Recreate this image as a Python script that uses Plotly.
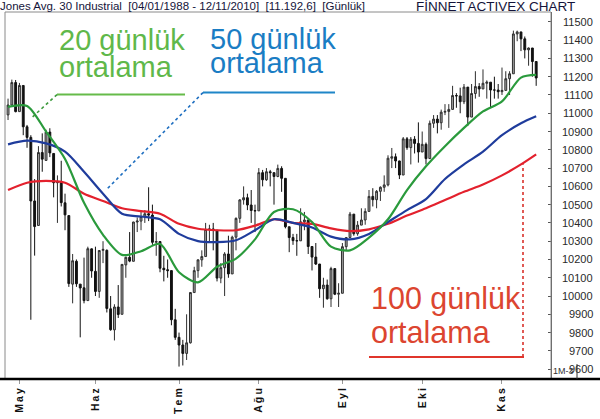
import pandas as pd
import plotly.graph_objects as go

# ---------------------------------------------------------------------------
# Daily session list (NYSE), 28 Apr 2010 - 12 Nov 2010
# ---------------------------------------------------------------------------
holidays = ["2010-05-31", "2010-07-05", "2010-09-06"]
dates = [d.strftime("%Y-%m-%d") for d in pd.bdate_range("2010-04-28", "2010-11-12")
         if d.strftime("%Y-%m-%d") not in holidays]

# Daily candles (Apr 28 .. Nov 12)
opens = [
    10991, 11045, 11168,
    11009, 11152, 10926, 10868, 10520, 10386, 10785, 10742, 10897, 10780, 10620, 10625, 10510, 10440, 10065, 10190, 10065, 10045, 9975, 10258,
    10135, 10025, 10250, 10250, 9930, 9815, 9940, 9900, 10170, 10212, 10190, 10405, 10410, 10435, 10450, 10443, 10294, 10298, 10152, 10144, 10139, 9870,
    9774, 9732, 9686, 9744, 10019, 10139, 10198, 10216, 10364, 10367, 10360, 10098, 10155, 10230, 10121, 10322, 10425, 10526, 10538, 10498, 10468,
    10466, 10675, 10636, 10680, 10675, 10654, 10698, 10644, 10379, 10320, 10303, 10302, 10406, 10416, 10271, 10213, 10175, 10040, 10060, 9985, 10150, 10010,
    10015, 10270, 10320, 10448, 10341, 10388, 10416, 10463, 10545, 10527, 10573, 10595, 10608, 10754, 10762, 10739, 10662, 10860, 10812, 10858, 10835,
    10788, 10830, 10752, 10945, 10968, 10948, 11006, 11010, 11021, 11097, 11095, 11063, 11143, 10979, 11108, 11146, 11133, 11164, 11170, 11127, 11127,
    11118, 11125, 11189, 11216, 11434, 11445, 11407, 11347, 11357, 11283,
]
highs = [
    11080, 11184, 11182,
    11166, 11152, 10936, 10880, 10640, 10820, 10890, 10910, 10918, 10780, 10660, 10740, 10560, 10440, 10230, 10200, 10065, 10210, 10270, 10260,
    10270, 10250, 10300, 10255, 10000, 9955, 10060, 10175, 10215, 10350, 10406, 10430, 10460, 10470, 10595, 10500, 10350, 10298, 10220, 10200, 10139, 9930,
    9800, 9760, 9900, 10020, 10160, 10200, 10250, 10400, 10390, 10400, 10360, 10180, 10240, 10330, 10330, 10430, 10530, 10600, 10560, 10580, 10500,
    10700, 10690, 10700, 10690, 10675, 10719, 10710, 10644, 10379, 10340, 10340, 10480, 10460, 10416, 10271, 10290, 10175, 10100, 10090, 10160, 10150, 10070,
    10290, 10320, 10460, 10448, 10410, 10480, 10480, 10580, 10590, 10580, 10600, 10660, 10770, 10810, 10780, 10740, 10870, 10870, 10870, 10875, 10950,
    10900, 10840, 10960, 10990, 10990, 11020, 11050, 11050, 11150, 11110, 11140, 11160, 11143, 11160, 11230, 11165, 11240, 11180, 11170, 11200, 11160,
    11250, 11230, 11230, 11452, 11452, 11445, 11420, 11360, 11357, 11283,
]
lows = [
    10963, 11045, 11005,
    11009, 10880, 10811, 9870, 10221, 10386, 10680, 10742, 10760, 10540, 10400, 10490, 10360, 10050, 9960, 10050, 9774, 9960, 9975, 10100,
    10000, 9990, 10180, 9910, 9810, 9757, 9880, 9900, 10100, 10185, 10190, 10350, 10360, 10400, 10410, 10280, 10220, 10130, 10080, 10100, 9840, 9760,
    9614, 9620, 9650, 9740, 10019, 10100, 10160, 10216, 10290, 10250, 10080, 10070, 10000, 10100, 10121, 10250, 10400, 10500, 10470, 10400, 10350,
    10466, 10600, 10630, 10600, 10500, 10650, 10570, 10370, 10240, 10280, 10220, 10302, 10360, 10230, 10140, 10170, 9990, 9936, 9980, 9940, 10005, 9940,
    10015, 10250, 10320, 10330, 10330, 10388, 10390, 10463, 10490, 10480, 10520, 10570, 10600, 10700, 10700, 10640, 10662, 10800, 10720, 10780, 10730,
    10788, 10720, 10752, 10920, 10890, 10910, 10990, 10920, 11021, 11030, 11000, 11050, 10930, 10979, 11080, 11090, 11133, 11080, 11030, 11080, 11080,
    11100, 11125, 11100, 11216, 11394, 11340, 11300, 11260, 11200, 11150,
]
closes = [
    11045, 11168, 11009,
    11152, 10926, 10868, 10520, 10380, 10785, 10749, 10897, 10783, 10620, 10625, 10511, 10444, 10068, 10193, 10067, 10044, 9975, 10259, 10137,
    10025, 10249, 10255, 9932, 9816, 9940, 9899, 10173, 10212, 10191, 10405, 10410, 10435, 10450, 10443, 10294, 10298, 10152, 10144, 10139, 9870, 9774,
    9732, 9686, 9744, 10019, 10139, 10198, 10216, 10364, 10367, 10360, 10098, 10155, 10230, 10121, 10322, 10425, 10526, 10538, 10498, 10468, 10466,
    10675, 10636, 10680, 10675, 10654, 10698, 10644, 10379, 10320, 10303, 10302, 10406, 10416, 10271, 10213, 10175, 10040, 10060, 9985, 10150, 10010, 10015,
    10270, 10320, 10448, 10341, 10388, 10416, 10463, 10545, 10527, 10573, 10595, 10608, 10754, 10762, 10739, 10662, 10860, 10812, 10858, 10835, 10788,
    10830, 10752, 10945, 10968, 10948, 11006, 11010, 11021, 11097, 11095, 11063, 11143, 10979, 11108, 11146, 11133, 11164, 11170, 11127, 11127, 11118,
    11125, 11189, 11216, 11434, 11445, 11407, 11347, 11357, 11283, 11193,
]

# Moving averages, sampled every fifth session
ma_idx = [0, 5, 10, 15, 20, 25, 30, 35, 40, 45, 50, 55, 60, 65, 70, 75, 80, 85, 90,
          95, 100, 105, 110, 115, 120, 125, 130, 135, 139]
ma20 = [11035, 11040, 10900, 10750, 10510, 10335, 10225, 10245, 10285, 10130, 10075, 10160, 10205, 10310,
        10460, 10475, 10405, 10270, 10250, 10320, 10420, 10580, 10710, 10820, 10920, 11010, 11065, 11195, 11210]
ma50 = [10830, 10850, 10835, 10790, 10680, 10560, 10450, 10435, 10420, 10340, 10300, 10295, 10305, 10360,
        10420, 10400, 10375, 10325, 10310, 10340, 10405, 10470, 10530, 10640, 10720, 10790, 10880, 10945, 10983]
ma100 = [10580, 10620, 10630, 10620, 10560, 10520, 10480, 10465, 10450, 10395, 10368, 10360, 10360, 10385,
         10420, 10400, 10395, 10370, 10355, 10365, 10395, 10440, 10480, 10525, 10570, 10610, 10660, 10720, 10775]

# Month labels on the first session of each month
month_ticks = ["2010-05-03", "2010-06-01", "2010-07-01", "2010-08-02", "2010-09-01", "2010-10-01", "2010-11-01"]
month_names = ["May", "Haz", "Tem", "Ağu", "Eyl", "Eki", "Kas"]

price_ticks = list(range(9600, 11501, 100))

# ---------------------------------------------------------------------------
W, H = 600, 419
PL, PR, PT, PB = 5, 551, 12, 381


def px(x):
    return (x - PL) / (PR - PL)


def py(y):
    return (PB - y) / (PB - PT)


fig = go.Figure()

fig.add_trace(go.Candlestick(
    x=dates, open=opens, high=highs, low=lows, close=closes,
    increasing=dict(line=dict(color="#2e2e2e", width=1), fillcolor="#a6a6a6"),
    decreasing=dict(line=dict(color="#111111", width=1), fillcolor="#111111"),
    whiskerwidth=0, showlegend=False, hoverinfo="skip",
))

ma_x = [dates[i] for i in ma_idx]
for vals, col in ((ma100, "#e3212d"), (ma50, "#1f3c9c"), (ma20, "#2a9a3c")):
    fig.add_trace(go.Scatter(
        x=ma_x, y=vals, mode="lines",
        line=dict(color=col, width=2.2, shape="spline", smoothing=0.8),
        showlegend=False, hoverinfo="skip",
    ))

shapes = []
# plot frame
shapes.append(dict(type="rect", xref="paper", yref="paper", x0=0, x1=1, y0=0, y1=1,
                   line=dict(color="#8a8a8a", width=1)))
# heavy base line across the page
shapes.append(dict(type="line", xref="paper", yref="paper", x0=px(0), x1=px(600), y0=0, y1=0,
                   line=dict(color="#000000", width=2.5)))
# small box edge next to the bottom-right tag
shapes.append(dict(type="line", xref="paper", yref="paper", x0=px(577), x1=px(577), y0=py(366), y1=py(381),
                   line=dict(color="#333333", width=1)))

# label underlines and leader lines
leaders = [
    ("#66bb4a", (57, 95, 185, 95), (57, 95, 32, 118), "#3d9a3d"),
    ("#1f86c8", (203, 93, 335, 93), (203, 93, 106, 191), "#1f6fc0"),
    ("#e0352b", (369, 359, 524, 359), (523, 359, 523, 165), "#d9312b"),
]
for col, (ax0, ay0, ax1, ay1), (bx0, by0, bx1, by1), dcol in leaders:
    shapes.append(dict(type="line", xref="paper", yref="paper",
                       x0=px(ax0), x1=px(ax1), y0=py(ay0), y1=py(ay1),
                       line=dict(color=col, width=2)))
    shapes.append(dict(type="line", xref="paper", yref="paper",
                       x0=px(bx0), x1=px(bx1), y0=py(by0), y1=py(by1),
                       line=dict(color=dcol, width=1.6, dash="dot")))

annotations = []
big = "Liberation Sans, Arial, sans-serif"
labels = [
    ("20 günlük", 57, 49, "#5fb84a", 29),
    ("ortalama", 57, 77, "#5fb84a", 29),
    ("50 günlük", 208, 48, "#1a7dc4", 29),
    ("ortalama", 208, 73, "#1a7dc4", 29),
    ("100 günlük", 369, 310, "#dc4530", 30.5),
    ("ortalama", 369, 344, "#dc4530", 30.5),
]
for txt, x, base, col, size in labels:
    annotations.append(dict(text=txt, xref="paper", yref="paper", x=px(x), y=py(base - 0.32 * size),
                            xanchor="left", yanchor="middle", showarrow=False,
                            font=dict(family=big, size=size, color=col)))

# header texts
narrow = "Liberation Sans Narrow, Arial Narrow, Liberation Sans, sans-serif"
annotations.append(dict(text="Jones Avg. 30 Industrial  [04/01/1988 - 12/11/2010]  [11.192,6]  [Günlük]",
                        xref="paper", yref="paper", x=px(-2), y=py(6), xanchor="left", yanchor="middle",
                        showarrow=False, font=dict(family=narrow, size=11.5, color="#14143a")))
annotations.append(dict(text="FİNNET ACTIVEX CHART", xref="paper", yref="paper", x=px(414), y=py(6),
                        xanchor="left", yanchor="middle", showarrow=False,
                        font=dict(family=narrow, size=13.5, color="#14143a")))

# price labels, right aligned beside the axis
for v in price_ticks:
    annotations.append(dict(text=str(v), xref="paper", yref="y", x=px(595), y=v,
                            xanchor="right", yanchor="middle", showarrow=False,
                            font=dict(family=narrow, size=11, color="#2a2a2a")))
annotations.append(dict(text="1M-3", xref="paper", yref="paper", x=px(563), y=py(373),
                        xanchor="center", yanchor="middle", showarrow=False,
                        font=dict(family=narrow, size=9, color="#333333")))

thin = "\u2009"
fig.update_layout(
    width=W, height=H,
    margin=dict(l=PL, r=W - PR, t=PT, b=H - PB, pad=0),
    paper_bgcolor="white", plot_bgcolor="white",
    shapes=shapes, annotations=annotations,
    showlegend=False,
    xaxis=dict(
        type="category", range=[-0.8, 142.9], rangeslider=dict(visible=False),
        tickmode="array", tickvals=month_ticks,
        ticktext=["<b>" + thin.join(m) + "</b>" for m in month_names],
        tickangle=-90, ticks="outside", ticklen=4, tickcolor="#9a9a9a",
        tickfont=dict(family="Liberation Sans, Arial, sans-serif", size=10.5, color="#111111"),
        showgrid=False, showline=False, zeroline=False, fixedrange=True,
    ),
    yaxis=dict(
        side="right", range=[9546, 11554], tickmode="array", tickvals=price_ticks,
        showticklabels=False, ticks="inside", ticklen=3, tickcolor="#555555",
        showgrid=False, showline=True, linecolor="#555555", linewidth=1,
        zeroline=False, fixedrange=True,
    ),
)

fig.write_html("out.html")
